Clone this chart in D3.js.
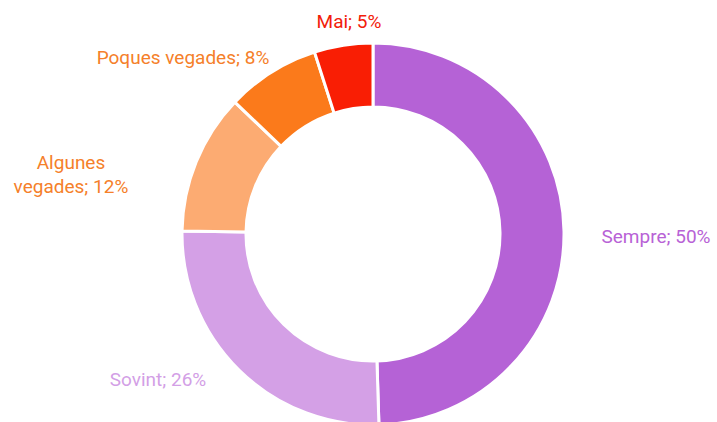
<!DOCTYPE html>
<html>
<head>
<meta charset="utf-8">
<script src="https://cdn.jsdelivr.net/npm/d3@7"></script>
<style>
  html, body { margin: 0; padding: 0; background: #fff; }
  svg { display: block; }
  text { font-family: Roboto, "Open Sans", sans-serif; font-size: 19px; }
</style>
</head>
<body>
<svg id="chart" width="717" height="422"></svg>
<script>
// Survey answer shares (percent)
const categories = ["Sempre", "Sovint", "Algunes vegades", "Poques vegades", "Mai"];
const values = [50, 26, 12, 8, 5];
const sliceColors = ["#b562d6", "#d4a0e6", "#fcab72", "#fb7a1b", "#f91e04"];
const labelColors = ["#b862d6", "#d39fe6", "#f5802a", "#f5802a", "#f2200a"];
// Label lines (multi-line where the category name wraps) and anchor points
const labelLines = [["Sempre; 50%"], ["Sovint; 26%"], ["Algunes", "vegades; 12%"], ["Poques vegades; 8%"], ["Mai; 5%"]];
const labelPos = [[656, 243], [158, 386], [71, 169], [183, 64], [349, 28]];

const svg = d3.select("#chart");
const cx = 373, cy = 234, outerR = 191, innerR = 127;

const data = categories.map((c, i) => ({ name: c, value: values[i], i }));
const pie = d3.pie().value(d => d.value).sort(null);
const arc = d3.arc().innerRadius(innerR).outerRadius(outerR);

const g = svg.append("g").attr("transform", `translate(${cx},${cy})`);
g.selectAll("path")
  .data(pie(data))
  .join("path")
  .attr("d", arc)
  .attr("fill", d => sliceColors[d.data.i])
  .attr("stroke", "#fff")
  .attr("stroke-width", 3)
  .attr("stroke-linejoin", "miter");

const labels = svg.append("g");
data.forEach((d, i) => {
  const lines = labelLines[i];
  const t = labels.append("text")
    .attr("x", labelPos[i][0])
    .attr("y", labelPos[i][1])
    .attr("text-anchor", "middle")
    .attr("fill", labelColors[i]);
  lines.forEach((ln, k) => {
    t.append("tspan")
      .attr("x", labelPos[i][0])
      .attr("dy", k === 0 ? 0 : 24)
      .text(ln);
  });
});
</script>
</body>
</html>
